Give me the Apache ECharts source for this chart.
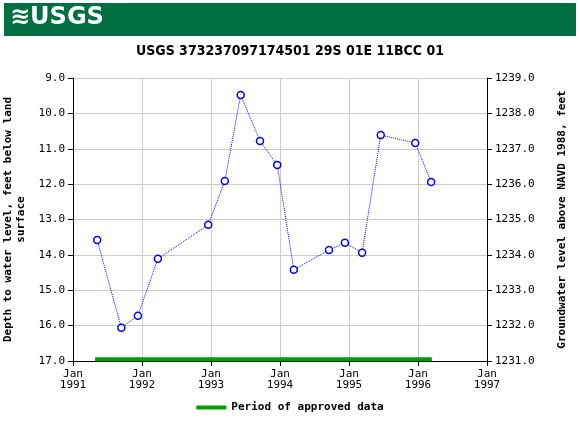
<!DOCTYPE html>
<html><head><meta charset="utf-8">
<script src="https://cdn.jsdelivr.net/npm/echarts@6/dist/echarts.min.js"></script>
<style>body{margin:0}#c{width:580px;height:430px}</style></head>
<body><div id="c"></div>
<script>
const dates=[1991.35,1991.70,1991.94,1992.23,1992.96,1993.20,1993.43,1993.71,1993.96,1994.20,1994.71,1994.94,1995.19,1995.46,1995.96,1996.19];
const depths=[13.58,16.06,15.72,14.11,13.15,11.91,9.48,10.78,11.46,14.42,13.86,13.66,13.94,10.61,10.84,11.94];
const approvedStart=1991.32, approvedEnd=1996.20, approvedLevel=16.95;
const yearTicks=[1991,1992,1993,1994,1995,1996,1997];
const f='DejaVu Sans Mono';
const chart=echarts.init(document.getElementById('c'));
chart.setOption({
 animation:false,
 graphic:[
  {type:'rect',shape:{x:4,y:3,width:572,height:33},style:{fill:'#006f41'}},
  {type:'text',left:10,top:6,style:{text:'≋USGS',fill:'#fff',font:'bold 24px "DejaVu Sans"'}},
  {type:'text',left:'center',top:44,style:{text:'USGS 373237097174501 29S 01E 11BCC 01',fill:'#000',font:'bold 14px "DejaVu Sans Condensed"'}}
 ],
 grid:{left:73,right:93,top:78,bottom:69,outerBoundsMode:'none',containLabel:false},
 xAxis:{type:'value',min:1991,max:1997,interval:1,
  axisLabel:{formatter:v=>'Jan\n'+v,fontFamily:f,fontSize:11,color:'#000'},
  axisLine:{lineStyle:{color:'#000'}},axisTick:{lineStyle:{color:'#000'}},
  splitLine:{show:true,lineStyle:{color:'#ccc'}}},
 yAxis:[{type:'value',min:9,max:17,interval:1,inverse:true,
  name:'Depth to water level, feet below land\nsurface',nameLocation:'middle',nameGap:40,
  nameTextStyle:{fontFamily:f,fontSize:11,fontWeight:'bold',color:'#000',lineHeight:13},
  axisLabel:{formatter:v=>v.toFixed(1),fontFamily:f,fontSize:11,color:'#000'},
  axisLine:{show:true,lineStyle:{color:'#000'}},axisTick:{show:true,lineStyle:{color:'#000'}},
  splitLine:{show:true,lineStyle:{color:'#ccc'}}},
  {type:'value',min:1231,max:1239,interval:1,position:'right',
  name:'Groundwater level above NAVD 1988, feet',nameLocation:'middle',nameGap:70,nameRotate:90,
  nameTextStyle:{fontFamily:f,fontSize:11,fontWeight:'bold',color:'#000'},
  axisLabel:{formatter:v=>v.toFixed(1),fontFamily:f,fontSize:11,color:'#000'},
  axisLine:{show:true,lineStyle:{color:'#000'}},axisTick:{show:true,lineStyle:{color:'#000'}},
  splitLine:{show:false}}],
 legend:{bottom:12,left:'center',data:[{name:'Period of approved data',icon:'rect'}],itemWidth:30,itemHeight:4,
  textStyle:{fontFamily:f,fontSize:11,fontWeight:'bold',color:'#000'}},
 series:[
  {type:'line',data:dates.map((d,i)=>[d,depths[i]]),symbol:'circle',symbolSize:7,
   lineStyle:{color:'#0000ff',type:'dotted',width:1},itemStyle:{color:'#fff',borderColor:'#0000ff',borderWidth:1.5}},
  {name:'Period of approved data',type:'line',data:[[approvedStart,approvedLevel],[approvedEnd,approvedLevel]],
   symbol:'none',lineStyle:{color:'#00a000',width:4},itemStyle:{color:'#00a000'}}
 ]
});
</script></body></html>
